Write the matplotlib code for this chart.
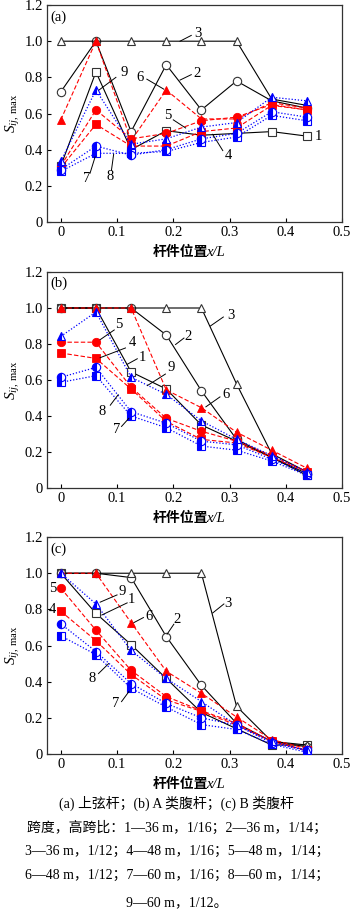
import matplotlib.pyplot as plt

plt.rcParams['font.family'] = ['Liberation Serif', 'Noto Sans CJK SC']
plt.rcParams['mathtext.fontset'] = 'custom'
plt.rcParams['mathtext.rm'] = 'Liberation Serif'
plt.rcParams['mathtext.it'] = 'Liberation Serif:italic'

# member position x/L
positions = [0, 0.0625, 0.125, 0.1875, 0.25, 0.3125, 0.375, 0.4375]
case_ids = ['1', '2', '3', '4', '5', '6', '7', '8', '9']

# (a) top chord, cases 1..9
top_chord = [
    [0.31, 0.83, 0.40, 0.505, 0.48, 0.49, 0.50, 0.475],
    [0.72, 1.00, 0.50, 0.87, 0.62, 0.78, 0.67, 0.63],
    [1.00, 1.00, 1.00, 1.00, 1.00, 1.00, 0.68, 0.645],
    [0.30, 0.54, 0.42, 0.42, 0.50, 0.52, 0.645, 0.62],
    [0.31, 0.62, 0.46, 0.49, 0.56, 0.58, 0.65, 0.62],
    [0.565, 1.00, 0.45, 0.73, 0.57, 0.57, 0.66, 0.63],
    [0.28, 0.38, 0.38, 0.39, 0.44, 0.47, 0.59, 0.56],
    [0.29, 0.42, 0.37, 0.40, 0.46, 0.49, 0.61, 0.58],
    [0.335, 0.73, 0.43, 0.46, 0.525, 0.55, 0.69, 0.67],
]

# (b) type A web members
web_a = [
    [1.00, 1.00, 0.645, 0.55, 0.35, 0.26, 0.17, 0.07],
    [1.00, 1.00, 1.00, 0.85, 0.54, 0.27, 0.17, 0.08],
    [1.00, 1.00, 1.00, 1.00, 1.00, 0.578, 0.19, 0.09],
    [0.75, 0.72, 0.55, 0.37, 0.27, 0.25, 0.17, 0.09],
    [0.81, 0.81, 0.56, 0.387, 0.315, 0.26, 0.18, 0.09],
    [1.00, 1.00, 1.00, 0.545, 0.446, 0.31, 0.21, 0.11],
    [0.587, 0.624, 0.40, 0.335, 0.233, 0.21, 0.15, 0.07],
    [0.615, 0.67, 0.424, 0.36, 0.26, 0.24, 0.16, 0.08],
    [0.842, 0.978, 0.615, 0.52, 0.373, 0.27, 0.18, 0.09],
]

# (c) type B web members
web_b = [
    [1.00, 0.778, 0.605, 0.418, 0.23, 0.14, 0.05, 0.05],
    [1.00, 1.00, 0.976, 0.65, 0.38, 0.17, 0.07, 0.04],
    [1.00, 1.00, 1.00, 1.00, 1.00, 0.264, 0.07, 0.05],
    [0.79, 0.627, 0.44, 0.30, 0.236, 0.16, 0.07, 0.02],
    [0.918, 0.685, 0.463, 0.318, 0.24, 0.17, 0.07, 0.02],
    [1.00, 1.00, 0.727, 0.458, 0.336, 0.205, 0.08, 0.03],
    [0.654, 0.55, 0.364, 0.26, 0.163, 0.136, 0.054, 0.01],
    [0.72, 0.567, 0.39, 0.28, 0.20, 0.16, 0.06, 0.02],
    [1.00, 0.83, 0.573, 0.418, 0.29, 0.16, 0.07, 0.02],
]

y_ticks = [0, 0.2, 0.4, 0.6, 0.8, 1.0, 1.2]
y_ticklabels = ['0', '0.2', '0.4', '0.6', '0.8', '1.0', '1.2']
x_ticks = [0, 0.1, 0.2, 0.3, 0.4, 0.5]
x_ticklabels = ['0', '0.1', '0.2', '0.3', '0.4', '0.5']

caption = [
    '(a) 上弦杆；(b) A 类腹杆；(c) B 类腹杆',
    '跨度，高跨比：1—36 m，1/16；2—36 m，1/14；',
    '3—36 m，1/12；4—48 m，1/16；5—48 m，1/14；',
    '6—48 m，1/12；7—60 m，1/16；8—60 m，1/14；',
    '9—60 m，1/12。',
]

RED = '#ff0000'
BLUE = '#0000ff'
markers = ['s', 'o', '^'] * 3


def series_style(i):
    m = markers[i]
    if i < 3:
        return dict(color='black', ls='-', lw=0.8, marker=m, ms=6,
                    mfc='white', mec='#333333', mew=0.8)
    if i < 6:
        return dict(color=RED, ls=(0, (4, 2)), lw=0.8, marker=m, ms=6,
                    mfc=RED, mec=RED, mew=0.6)
    return dict(color=BLUE, ls=(0, (1, 1.5)), lw=0.9, marker=m, ms=6,
                mfc=BLUE, mec=BLUE, mew=0.8, fillstyle='left',
                markerfacecoloralt='white')


# label, text (x, y), leader start, leader end
labels_a = [
    ('3', (0.243, 1.045), (0.212, 1.0), (0.232, 1.032)),
    ('9', (0.112, 0.825), (0.068, 0.73), (0.098, 0.80)),
    ('6', (0.140, 0.80), (0.153, 0.79), (0.183, 0.735)),
    ('2', (0.243, 0.82), (0.212, 0.785), (0.232, 0.815)),
    ('5', (0.190, 0.59), (0.200, 0.565), (0.222, 0.52)),
    ('4', (0.298, 0.37), (0.288, 0.395), (0.270, 0.485)),
    ('1', (0.458, 0.475), None, None),
    ('7', (0.046, 0.24), (0.052, 0.27), (0.061, 0.36)),
    ('8', (0.087, 0.25), (0.090, 0.285), (0.094, 0.375)),
]
labels_b = [
    ('3', (0.302, 0.96), (0.266, 0.90), (0.289, 0.95)),
    ('5', (0.103, 0.906), (0.070, 0.824), (0.095, 0.878)),
    ('4', (0.127, 0.806), (0.070, 0.724), (0.115, 0.778)),
    ('1', (0.146, 0.724), (0.118, 0.687), (0.136, 0.718)),
    ('9', (0.196, 0.67), (0.154, 0.569), (0.186, 0.633)),
    ('2', (0.226, 0.842), (0.204, 0.797), (0.219, 0.833)),
    ('6', (0.294, 0.518), (0.258, 0.451), (0.283, 0.506)),
    ('8', (0.074, 0.424), (0.088, 0.46), (0.102, 0.518)),
    ('7', (0.100, 0.324), (0.108, 0.342), (0.121, 0.387)),
]
labels_c = [
    ('5', (-0.015, 0.918), None, None),
    ('4', (-0.015, 0.80), None, None),
    ('9', (0.110, 0.90), (0.070, 0.84), (0.100, 0.88)),
    ('1', (0.126, 0.855), (0.073, 0.769), (0.118, 0.836)),
    ('6', (0.157, 0.763), (0.130, 0.727), (0.147, 0.755)),
    ('2', (0.207, 0.745), (0.189, 0.663), (0.201, 0.718)),
    ('3', (0.298, 0.83), (0.270, 0.78), (0.290, 0.83)),
    ('8', (0.056, 0.418), (0.067, 0.445), (0.085, 0.50)),
    ('7', (0.098, 0.282), (0.108, 0.29), (0.121, 0.345)),
]

fig = plt.figure(figsize=(3.5, 9.14), dpi=100)

panels = [
    ('(a)', top_chord, labels_a, [0.1343, 0.7571, 0.8429, 0.2374]),
    ('(b)', web_a, labels_b, [0.1343, 0.4661, 0.8429, 0.2363]),
    ('(c)', web_b, labels_c, [0.1343, 0.1750, 0.8429, 0.2374]),
]

for tag, values, labels, rect in panels:
    ax = fig.add_axes(rect)
    for i, ys in enumerate(values):
        ax.plot(positions, ys, zorder=2 + i, **series_style(i))

    for text, (tx, ty), p0, p1 in labels:
        ax.text(tx, ty, text, fontsize=10.5, ha='center', va='center', zorder=20)
        if p0 is not None:
            ax.plot([p0[0], p1[0]], [p0[1], p1[1]], color='black', lw=0.7, zorder=20)

    ax.text(-0.018, 1.135, tag, fontsize=10.5, ha='left', va='center')

    ax.set_xlim(-0.0245, 0.5)
    ax.set_ylim(0, 1.2)
    ax.set_xticks(x_ticks)
    ax.set_xticklabels(x_ticklabels)
    ax.set_yticks(y_ticks)
    ax.set_yticklabels(y_ticklabels)
    ax.tick_params(direction='in', length=3, width=0.8, labelsize=10.5, pad=3)
    for sp in ax.spines.values():
        sp.set_linewidth(0.9)
        sp.set_color('#333333')
    ax.set_ylabel(r'$S_{ij,\,\mathrm{max}}$', fontsize=11, labelpad=2)

    # x label: Chinese part + italic x/L (mathtext has no CJK fallback)
    ax.text(0.546, -0.14, '杆件位置', transform=ax.transAxes, ha='right',
            va='center', fontsize=10, fontweight='bold',
            family=['Noto Sans CJK SC'])
    ax.text(0.540, -0.14, 'x/L', transform=ax.transAxes, ha='left',
            va='center', fontsize=10.5, fontstyle='italic')

caption_y = [803, 828, 851, 875, 903]
for line, y in zip(caption, caption_y):
    fig.text(0.505, 1 - y / 914, line, fontsize=10, ha='center', va='center')

fig.savefig('out.png', dpi=100)
